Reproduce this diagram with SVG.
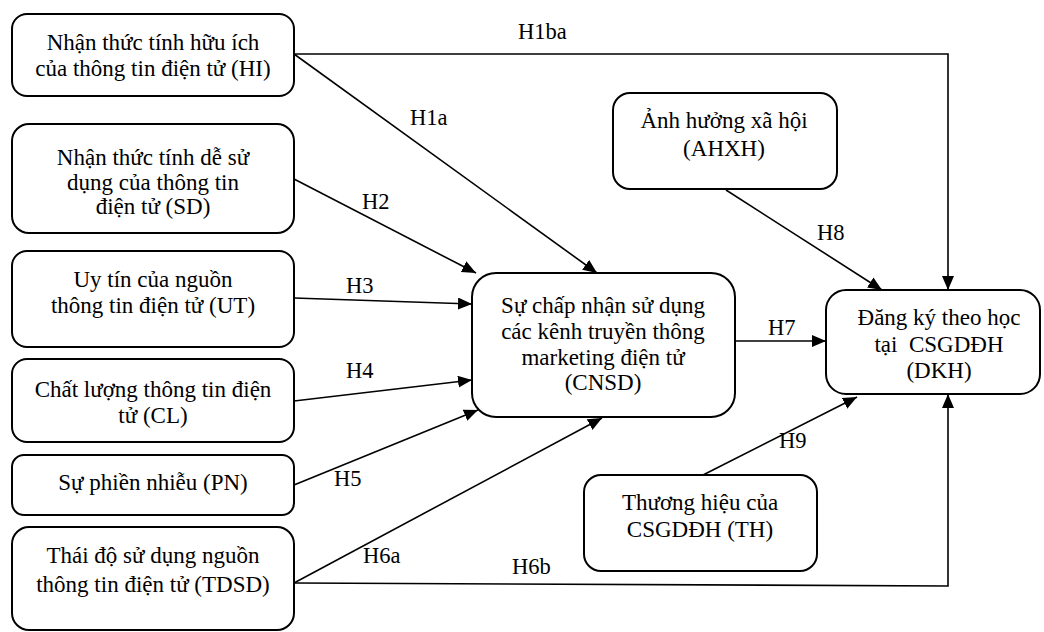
<svg xmlns="http://www.w3.org/2000/svg" width="1044" height="632" viewBox="0 0 1044 632">
<style>
.box{fill:#fff;stroke:#000;stroke-width:2}
.t{font-family:"Liberation Serif","Times New Roman",serif;font-size:23px;fill:#000;text-anchor:middle}
.l{font-family:"Liberation Serif","Times New Roman",serif;font-size:22.5px;fill:#000}
.c{fill:none;stroke:#000;stroke-width:1.6}
</style>
<defs>
<marker id="ah" markerUnits="userSpaceOnUse" markerWidth="16" markerHeight="14" refX="14" refY="6" orient="auto">
<path d="M0,0 L14,6 L0,12 Z" fill="#000"/>
</marker>
</defs>
<rect width="1044" height="632" fill="#fff"/>
<g id="connectors">
<polyline class="c" points="294,54 948,54 948,290" marker-end="url(#ah)"/>
<line class="c" x1="294" y1="54" x2="597" y2="273" marker-end="url(#ah)"/>
<line class="c" x1="294" y1="179" x2="476" y2="273" marker-end="url(#ah)"/>
<line class="c" x1="294" y1="298" x2="472" y2="304" marker-end="url(#ah)"/>
<line class="c" x1="294" y1="401" x2="472" y2="380" marker-end="url(#ah)"/>
<line class="c" x1="294" y1="485" x2="478" y2="410" marker-end="url(#ah)"/>
<line class="c" x1="294" y1="583" x2="602" y2="418" marker-end="url(#ah)"/>
<polyline class="c" points="294,583 948,586 948,394" marker-end="url(#ah)"/>
<line class="c" x1="735" y1="341" x2="826" y2="341" marker-end="url(#ah)"/>
<line class="c" x1="726" y1="190" x2="882" y2="290" marker-end="url(#ah)"/>
<line class="c" x1="703" y1="475" x2="857" y2="397" marker-end="url(#ah)"/>
<text class="l" x="518" y="39">H1ba</text>
<text class="l" x="410" y="125">H1a</text>
<text class="l" x="362" y="209">H2</text>
<text class="l" x="346" y="293">H3</text>
<text class="l" x="346" y="378">H4</text>
<text class="l" x="334" y="486">H5</text>
<text class="l" x="363" y="563">H6a</text>
<text class="l" x="512" y="574">H6b</text>
<text class="l" x="768" y="335">H7</text>
<text class="l" x="817" y="240">H8</text>
<text class="l" x="779" y="448">H9</text>
</g>
<g id="HI">
<rect class="box" x="12" y="14" width="282" height="82" rx="15"/>
<text class="t" x="153" y="50">Nhận thức tính hữu ích</text>
<text class="t" x="153" y="76">của thông tin điện tử (HI)</text>
</g>
<g id="SD">
<rect class="box" x="12" y="124" width="282" height="109" rx="17"/>
<text class="t" x="153" y="165">Nhận thức tính dễ sử</text>
<text class="t" x="153" y="190">dụng của thông tin</text>
<text class="t" x="153" y="214">điện tử (SD)</text>
</g>
<g id="UT">
<rect class="box" x="12" y="251" width="282" height="96" rx="15"/>
<text class="t" x="153" y="287">Uy tín của nguồn</text>
<text class="t" x="153" y="313">thông tin điện tử (UT)</text>
</g>
<g id="CL">
<rect class="box" x="12" y="359" width="282" height="83" rx="15"/>
<text class="t" x="153" y="397">Chất lượng thông tin điện</text>
<text class="t" x="153" y="423">tử (CL)</text>
</g>
<g id="PN">
<rect class="box" x="12" y="455" width="282" height="60" rx="12"/>
<text class="t" x="153" y="490">Sự phiền nhiễu (PN)</text>
</g>
<g id="TDSD">
<rect class="box" x="12" y="527" width="282" height="103" rx="17"/>
<text class="t" x="153" y="563">Thái độ sử dụng nguồn</text>
<text class="t" x="153" y="592">thông tin điện tử (TDSD)</text>
</g>
<g id="CNSD">
<rect class="box" x="472" y="273" width="263" height="144" rx="24"/>
<text class="t" x="603" y="313">Sự chấp nhận sử dụng</text>
<text class="t" x="603" y="339">các kênh truyền thông</text>
<text class="t" x="603" y="365">marketing điện tử</text>
<text class="t" x="603" y="390">(CNSD)</text>
</g>
<g id="AHXH">
<rect class="box" x="613" y="93" width="224" height="96" rx="17"/>
<text class="t" x="724" y="128">Ảnh hưởng xã hội</text>
<text class="t" x="724" y="156">(AHXH)</text>
</g>
<g id="DKH">
<rect class="box" x="826" y="290" width="214" height="104" rx="20"/>
<text class="t" x="939" y="325">Đăng ký theo học</text>
<text class="t" x="939" y="352" style="white-space:pre">tại  CSGDĐH</text>
<text class="t" x="939" y="378">(DKH)</text>
</g>
<g id="TH">
<rect class="box" x="584" y="475" width="233" height="96" rx="17"/>
<text class="t" x="700" y="510">Thương hiệu của</text>
<text class="t" x="700" y="537">CSGDĐH (TH)</text>
</g>
</svg>
